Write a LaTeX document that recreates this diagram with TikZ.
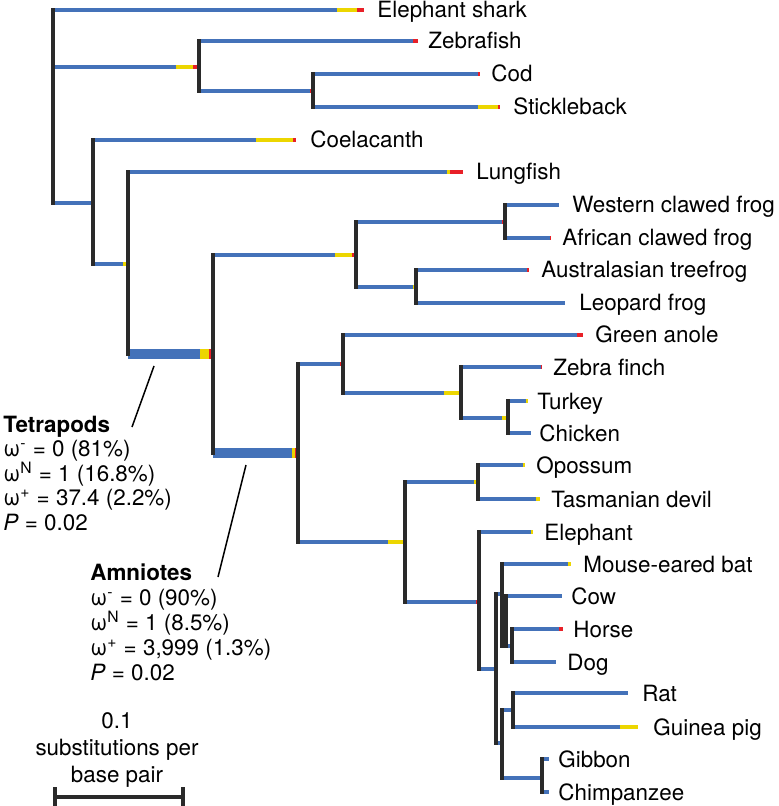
\documentclass[tikz,border=0pt]{standalone}
\usepackage{fontspec}
\setmainfont{TeX Gyre Heros}
\usetikzlibrary{calc}

\definecolor{brblue}{RGB}{68,114,185}
\definecolor{bryellow}{RGB}{236,214,0}
\definecolor{brred}{RGB}{232,32,40}
\definecolor{barblack}{RGB}{42,42,42}

\begin{document}
\begin{tikzpicture}[x=0.5pt,y=-0.5pt,
  every node/.style={inner sep=0pt,font=\fontsize{11.2}{12.25}\selectfont},
  branch/.style={color=brblue,line width=2pt},
  thickbranch/.style={color=brblue,line width=5pt},
  bar/.style={color=barblack,line width=2pt,line cap=rect},
  pointer/.style={color=black,line width=0.75pt},
  taxon/.style={anchor=base west,yshift=-4pt}]

\useasboundingbox (0,0) rectangle (779,806);

% Internal nodes of the tree
\foreach \n/\x/\y in {root/53/106, actino/199/67, codstick/313/91, sarco/93/203,
    rhipid/128/264, tetra/213/354, amphib/356/255, pipid/505/222, ranid/416/287,
    amnio/298/453, sauro/343/364, bird/461/393, galli/508/418, mammal/405/542,
    marsu/478/482, placen/479/602, boreo/496/669, laura/502/594, chd/506/646,
    hd/512/646, euarch/502/743, rodent/513/710, primate/542/778}
  \coordinate (\n) at (\x,\y);

% Tips and their names
\foreach \n/\x/\y/\lx/\t in {eshark/364/10/377/Elephant shark,
    zebrafish/418/41/428/Zebrafish, cod/480/74/491/Cod,
    stickle/500/107/513/Stickleback, coel/296/140/310/Coelacanth,
    lungfish/463/172/476/Lungfish, wcfrog/559/205/572/Western clawed frog,
    acfrog/551/238/562/African clawed frog,
    atfrog/529/270/541/Australasian treefrog, lfrog/565/303/579/Leopard frog,
    anole/583/335/595/Green anole, zfinch/542/367/553/Zebra finch,
    turkey/528/401/537/Turkey, chicken/531/433/539/Chicken,
    opossum/525/465/536/Opossum, tdevil/540/499/551/Tasmanian devil,
    eleph/533/532/544/Elephant, bat/571/564/583/Mouse-eared bat,
    cow/562/596/571/Cow, horse/563/629/573/Horse, dog/556/662/567/Dog,
    rat/628/693/642/Rat, gpig/638/727/653/Guinea pig,
    gibbon/549/759/558/Gibbon, chimp/549/792/558/Chimpanzee} {
  \coordinate (\n) at (\x,\y);
  \node[taxon] (lbl-\n) at (\lx,\y) {\t};
}

% Draw the branches (yellow and red parts at their ends)
\foreach \p/\c/\yl/\rd in {root/eshark/20/7, root/actino/17/6,
    actino/zebrafish/0/5, actino/codstick/0/3, codstick/cod/0/2,
    codstick/stickle/20/2, root/sarco/0/0, sarco/coel/37/3, sarco/rhipid/5/0,
    rhipid/lungfish/3/13, tetra/amphib/17/4, amphib/pipid/0/3,
    pipid/wcfrog/0/0, pipid/acfrog/0/1, amphib/ranid/3/0, ranid/atfrog/0/2,
    ranid/lfrog/0/0, amnio/sauro/0/3, sauro/anole/0/6, sauro/bird/17/0,
    bird/zfinch/0/1, bird/galli/6/0, galli/turkey/2/0, galli/chicken/0/0,
    amnio/mammal/15/2, mammal/marsu/4/0, marsu/opossum/2/0, marsu/tdevil/4/0,
    mammal/placen/0/3, placen/eleph/2/0, placen/boreo/0/0, boreo/laura/0/0,
    laura/bat/3/0, laura/chd/0/0, chd/cow/0/0, chd/hd/0/0, hd/horse/0/4,
    hd/dog/0/0, boreo/euarch/0/0, euarch/rodent/0/0, rodent/rat/0/0,
    rodent/gpig/18/0, euarch/primate/0/2, primate/gibbon/0/0,
    primate/chimp/0/0} {
  \draw[branch] (\p |- \c) -- (\c);
  \draw[branch,color=bryellow] ($(\c)+(-\yl-\rd,0)$) -- ($(\c)+(-\rd,0)$);
  \draw[branch,color=brred] ($(\c)+(-\rd,0)$) -- (\c);
}

% The two thick stem branches
\draw[thickbranch] (rhipid |- tetra) -- (tetra);
\draw[thickbranch,color=bryellow] ($(tetra)+(-13,0)$) -- ($(tetra)+(-4,0)$);
\draw[thickbranch,color=brred] ($(tetra)+(-4,0)$) -- (tetra);
\draw[thickbranch] (tetra |- amnio) -- (amnio);
\draw[thickbranch,color=bryellow] ($(amnio)+(-6,0)$) -- ($(amnio)+(-3,0)$);
\draw[thickbranch,color=brred] ($(amnio)+(-3,0)$) -- (amnio);

% Draw the vertical bars of the nodes
\foreach \n/\a/\b in {root/eshark/sarco, actino/zebrafish/codstick,
    codstick/cod/stickle, sarco/coel/rhipid, rhipid/lungfish/tetra,
    tetra/amphib/amnio, amphib/pipid/ranid, pipid/wcfrog/acfrog,
    ranid/atfrog/lfrog, amnio/sauro/mammal, sauro/anole/bird,
    bird/zfinch/galli, galli/turkey/chicken, mammal/marsu/placen,
    marsu/opossum/tdevil, placen/eleph/boreo, boreo/laura/euarch,
    laura/bat/chd, chd/cow/hd, hd/horse/dog, euarch/rodent/primate,
    rodent/rat/gpig, primate/gibbon/chimp}
  \draw[bar] (\n |- \a) -- (\n |- \b);

% Annotations for the two stem branches
\coordinate (tetA) at (132,427);
\coordinate (tetB) at (154,366);
\coordinate (amnA) at (218,577);
\coordinate (amnB) at (246,465);
\draw[pointer] (tetA) -- (tetB);
\draw[pointer] (amnA) -- (amnB);

\node[anchor=base west,align=left] (tetlbl) at (3,530)
  {\textbf{Tetrapods}\\
   ω\textsuperscript{-} = 0 (81\%)\\
   ω\textsuperscript{N} = 1 (16.8\%)\\
   ω\textsuperscript{+} = 37.4 (2.2\%)\\
   \textit{P} = 0.02};
\node[anchor=base west,align=left,font=\fontsize{11.2}{12.5}\selectfont]
  (amnlbl) at (90,680)
  {\textbf{Amniotes}\\
   ω\textsuperscript{-} = 0 (90\%)\\
   ω\textsuperscript{N} = 1 (8.5\%)\\
   ω\textsuperscript{+} = 3,999 (1.3\%)\\
   \textit{P} = 0.02};

% Scale bar
\coordinate (sbl) at (55,797);
\coordinate (sbr) at (183,797);
\draw[bar,line cap=butt] (sbl) -- (sbr);
\draw[bar,line cap=butt] ($(sbl)+(0,-10)$) -- ($(sbl)+(0,10)$);
\draw[bar,line cap=butt] ($(sbr)+(0,-10)$) -- ($(sbr)+(0,10)$);
\node[anchor=base,align=center,font=\fontsize{11.2}{13.5}\selectfont] (sclbl)
  at (117,782) {0.1\\substitutions per\\base pair};

\end{tikzpicture}
\end{document}
